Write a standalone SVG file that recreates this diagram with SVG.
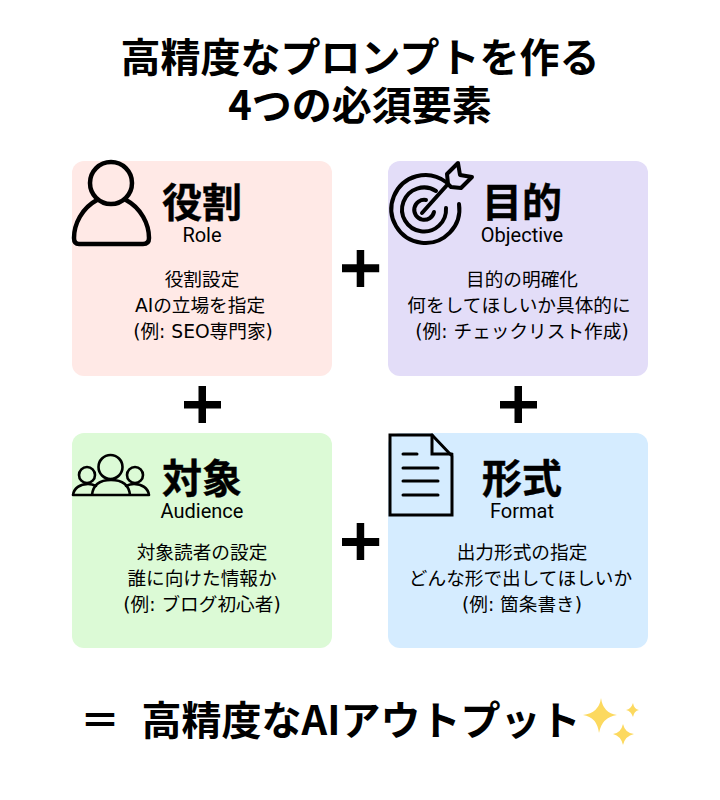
<svg xmlns="http://www.w3.org/2000/svg" width="720" height="800" viewBox="0 0 720 800">
<style>
text{font-family:"Noto Sans CJK JP","Noto Sans",sans-serif;fill:#000;text-anchor:middle}
.t{font-size:40px;font-weight:700}
.h{font-size:40px;font-weight:700;stroke:#000;stroke-width:.4px}
.e{font-size:20px;font-family:Roboto,"Noto Sans CJK JP",sans-serif}
.b{font-size:18.67px;font-family:"DejaVu Sans","Noto Sans CJK JP",sans-serif}
.r{font-size:40px;font-weight:700}
.ic{fill:none;stroke:#000;stroke-linejoin:round;stroke-linecap:round}
.doc{fill:none;stroke:#000;stroke-linejoin:miter;stroke-linecap:round}
.plus{fill:#000}
</style>
<rect width="720" height="800" fill="#fff"/>
<g id="title"><text class="t" x="360" y="72">高精度なプロンプトを作る</text><text class="t" x="360" y="120">4つの必須要素</text></g>
<g id="role">
<rect x="72" y="161" width="260" height="215" rx="12" fill="#ffe9e6"/>
<g class="ic" stroke-width="4.5"><circle cx="111" cy="183" r="21"/><path d="M97 200C82 208 74 224 74 238Q74 244 79 244H143Q149 244 149 238C149 224 141 208 126 200"/></g>
<text class="h" x="202" y="217">役割</text><text class="e" x="202" y="242">Role</text>
<text class="b" x="202" y="286">役割設定</text><text class="b" x="200" y="312">AIの立場を指定</text><text class="b" x="203" y="338">(例: SEO専門家)</text>
</g>
<g id="objective">
<rect x="388" y="161" width="260" height="215" rx="12" fill="#e3ddf8"/>
<g class="ic" stroke-width="4"><path d="M446 182A34 34 0 1 0 459 204"/><path d="M436 191A22 22 0 1 0 446 208"/><path d="M426 200A10 10 0 1 0 434 212"/><path d="M422 213L448 184"/><path d="M448 184L447 174L458 163L460 175L472 177L461 188L451 187Z"/></g>
<text class="h" x="522" y="217">目的</text><text class="e" x="522" y="242">Objective</text>
<text class="b" x="522" y="286">目的の明確化</text><text class="b" x="519" y="312">何をしてほしいか具体的に</text><text class="b" x="522" y="338">(例: チェックリスト作成)</text>
</g>
<g id="audience">
<rect x="72" y="433" width="260" height="215" rx="12" fill="#dcfad6"/>
<g class="ic" stroke-width="2.6" stroke="#222"><circle cx="110.500" cy="467" r="12"/><circle cx="87" cy="475" r="8"/><circle cx="135" cy="475" r="8"/><path d="M73 495H149M73 495C74 488 80 484 88 484Q92 484 96 486M149 495C148 488 142 484 134 484Q130 484 126 486M92 495C93 485 100 480 111 480C122 480 129 485 130 495"/></g>
<text class="h" x="202" y="493">対象</text><text class="e" x="202" y="518">Audience</text>
<text class="b" x="202" y="559">対象読者の設定</text><text class="b" x="202" y="585">誰に向けた情報か</text><text class="b" x="202" y="611">(例: ブログ初心者)</text>
</g>
<g id="format">
<rect x="388" y="433" width="260" height="215" rx="12" fill="#d5ecff"/>
<g class="doc" stroke-width="3"><path d="M390 435H432L452 456V515H390Z"/><path d="M432 435V454H452"/><path d="M403 454H417M403 468H438M403 481H438M403 495H438"/></g>
<text class="h" x="522" y="493">形式</text><text class="e" x="522" y="518">Format</text>
<text class="b" x="522" y="559">出力形式の指定</text><text class="b" x="520.500" y="585">どんな形で出してほしいか</text><text class="b" x="522" y="611">(例: 箇条書き)</text>
</g>
<g id="connectors" class="plus">
<path d="M356.700 250h7.500v14.300h15v8h-15v14.700h-7.500v-14.700h-14.700v-8h14.700z"/>
<path d="M356.700 523h7.500v15h15v8h-15v14h-7.500v-14h-14.700v-8h14.700z"/>
<path d="M198.500 386h7.500v15h15v7.500h-15v14.500h-7.500v-14.500h-14.500v-7.500h14.500z"/>
<path d="M514.500 386h7.500v15h15v7.500h-15v14.500h-7.500v-14.500h-14.500v-7.500h14.500z"/>
</g>
<g id="result">
<text class="r" x="100" y="735">＝</text>
<text class="r" x="361" y="735">高精度なAIアウトプット</text>
<path d="M601 698Q603 713 617 715Q602 717 599 733Q597 717 583 715Q599 713 601 698Z" fill="#fcd95f"/>
<path d="M633 703Q634 709 639 710Q634 711 633 717Q631 711 626 710Q631 709 633 703Z" fill="#fcd95f"/>
<path d="M623 724Q625 733 634 734Q625 736 623 745Q621 736 613 734Q621 733 623 724Z" fill="#fcd95f"/>
</g>
</svg>
